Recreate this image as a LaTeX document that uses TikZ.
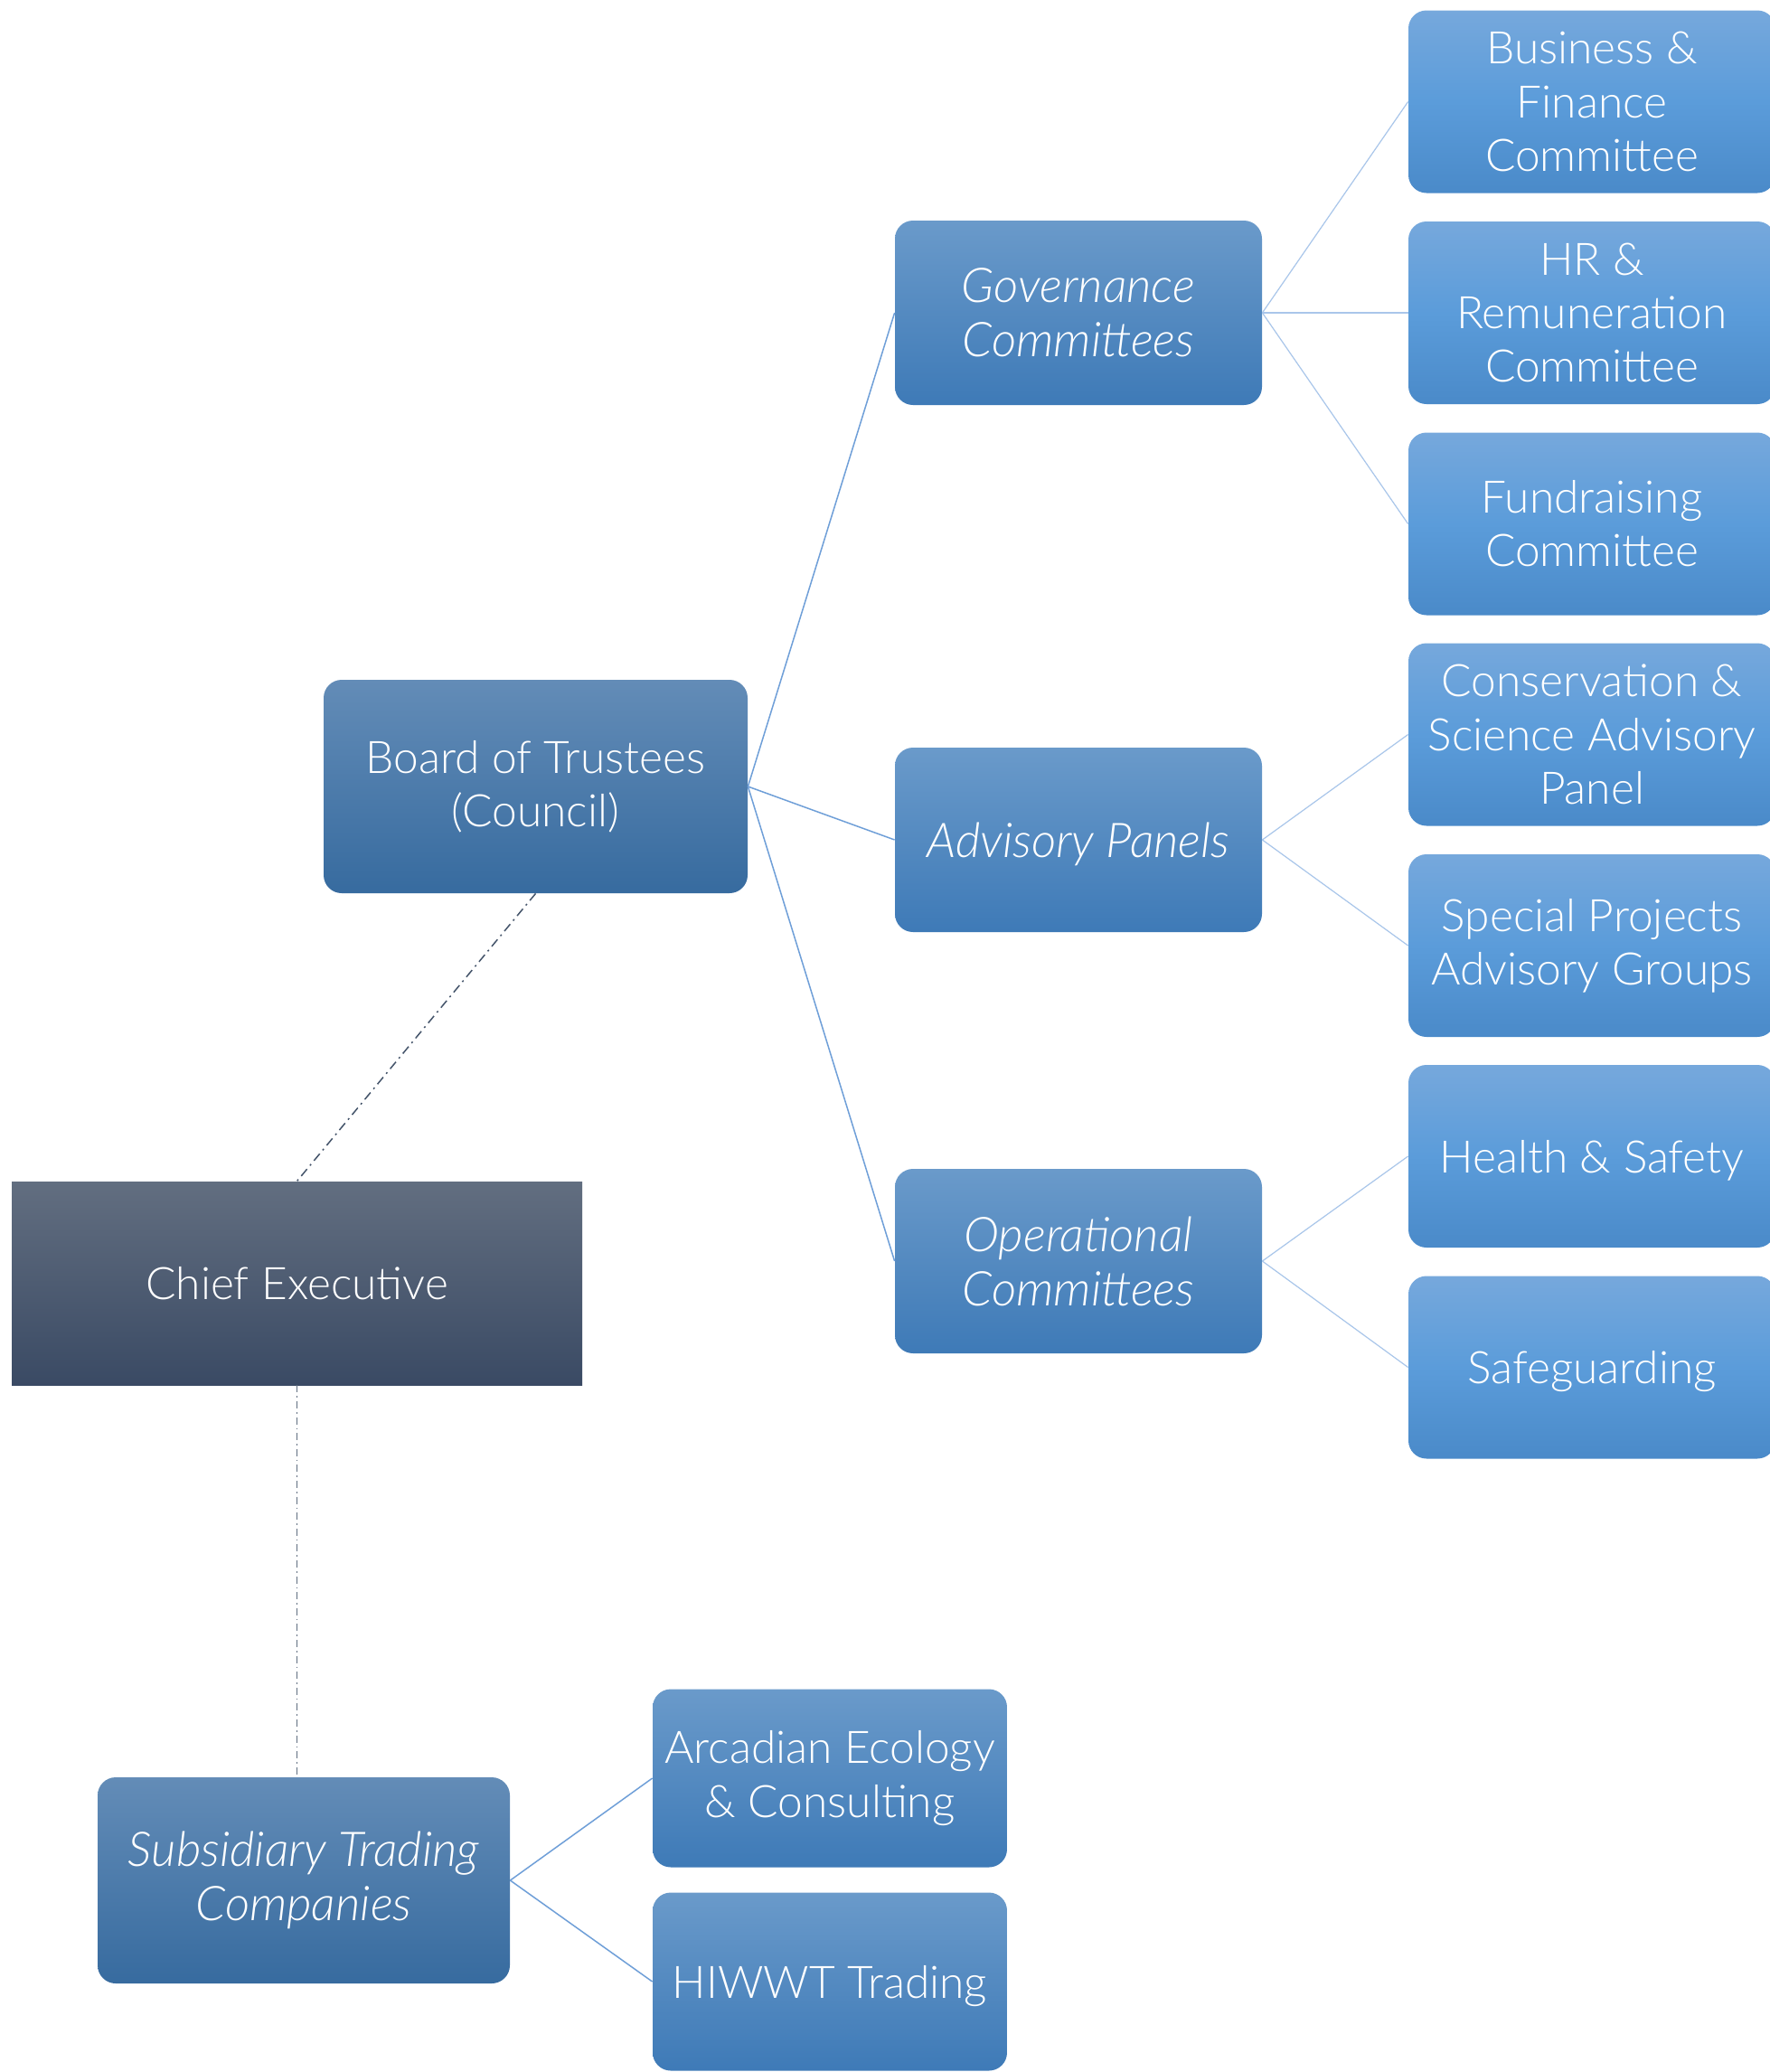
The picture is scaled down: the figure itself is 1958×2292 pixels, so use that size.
\documentclass[tikz,border=0pt]{standalone}
\usepackage{fontspec}
\setmainfont{Lato Light}[ItalicFont={Lato Light Italic}]
\definecolor{darkTop}{HTML}{638CB7}
\definecolor{darkBot}{HTML}{376B9F}
\definecolor{midTop}{HTML}{6A9ACA}
\definecolor{midBot}{HTML}{3E7AB7}
\definecolor{rTop}{HTML}{76A8DC}
\definecolor{rMid}{HTML}{5B9CDA}
\definecolor{rBot}{HTML}{4A8AC9}
\definecolor{ceoTop}{HTML}{626E80}
\definecolor{ceoBot}{HTML}{3A4A64}
\definecolor{lineStrong}{HTML}{6F9FD8}
\definecolor{lineLight}{HTML}{A9C6EA}
\definecolor{dashCol}{HTML}{44546A}
\tikzset{
  basebox/.style={rectangle, rounded corners=10pt, draw=none, text=white, align=center,
    inner sep=2pt, font=\fontsize{24.8}{29.6}\selectfont},
  itbox/.style={font=\fontsize{26.5}{30}\selectfont\itshape},
  oneline/.style={text depth=0pt},
  darkbox/.style={basebox, top color=darkTop, bottom color=darkBot},
  midbox/.style={basebox, top color=midTop, bottom color=midBot, minimum width=203pt, minimum height=102pt},
  rightbox/.style={basebox, top color=rTop, bottom color=rBot, middle color=rMid, minimum width=203pt, minimum height=101pt},
  subcobox/.style={basebox, top color=midTop, bottom color=midBot, minimum width=196pt, minimum height=98.5pt},
  ceobox/.style={rectangle, draw=none, text=white, align=center, inner sep=2pt,
    top color=ceoTop, bottom color=ceoBot, font=\fontsize{24.8}{29.6}\selectfont},
  strongline/.style={draw=lineStrong, line width=0.75pt},
  lightline/.style={draw=lineLight, line width=0.6pt},
  dashline/.style={draw=dashCol, line width=0.75pt, dash pattern=on 5pt off 2.5pt on 1pt off 2.5pt},
  dashlinetwo/.style={draw=dashCol!85, line width=0.5pt, dash pattern=on 4pt off 2pt on 0.8pt off 2pt},
}
\begin{document}
\begin{tikzpicture}[x=0.5pt,y=-0.5pt]
\clip (0,0) rectangle (1958,2292);
\fill[white] (0,0) rectangle (1958,2292);

\node[darkbox, minimum width=234.5pt, minimum height=118pt] (board) at (592.5,870) {Board of Trustees\\(Council)};
\node[ceobox, oneline, minimum width=315.5pt, minimum height=112.5pt] (ceo) at (328.5,1419.5) {Chief Executive};
\node[darkbox, itbox, minimum width=228pt, minimum height=114pt] (sub) at (336,2080) {Subsidiary Trading\\Companies};

\node[midbox, itbox] (gov) at (1193,346) {Governance\\Committees};
\node[midbox, itbox, oneline] (adv) at (1193,929) {Advisory Panels};
\node[midbox, itbox] (ops) at (1193,1395) {Operational\\Committees};

\node[rightbox] (bf) at (1761,112.5) {Business \&\\Finance\\Committee};
\node[rightbox] (hr) at (1761,346) {HR \&\\Remuneration\\Committee};
\node[rightbox] (fr) at (1761,579.5) {Fundraising\\Committee};
\node[rightbox] (cs) at (1761,812.5) {Conservation \&\\Science Advisory\\Panel};
\node[rightbox] (sp) at (1761,1046) {Special Projects\\Advisory Groups};
\node[rightbox, oneline] (hs) at (1761,1279) {Health \& Safety};
\node[rightbox, oneline] (sg) at (1761,1512.5) {Safeguarding};

\node[subcobox] (arc) at (918,1967) {Arcadian Ecology\\\& Consulting};
\node[subcobox, oneline] (hiw) at (918,2192) {HIWWT Trading};

\draw[strongline] (board.east) -- (gov.west);
\draw[strongline] (board.east) -- (adv.west);
\draw[strongline] (board.east) -- (ops.west);

\draw[lightline] (gov.east) -- (bf.west);
\draw[lightline] (gov.east) -- (hr.west);
\draw[lightline] (gov.east) -- (fr.west);
\draw[lightline] (adv.east) -- (cs.west);
\draw[lightline] (adv.east) -- (sp.west);
\draw[lightline] (ops.east) -- (hs.west);
\draw[lightline] (ops.east) -- (sg.west);

\draw[strongline] (sub.east) -- (arc.west);
\draw[strongline] (sub.east) -- (hiw.west);

\draw[dashline] (board.south) -- (ceo.north);
\draw[dashlinetwo] (ceo.south) -- (ceo.south |- sub.north);
\end{tikzpicture}
\end{document}
